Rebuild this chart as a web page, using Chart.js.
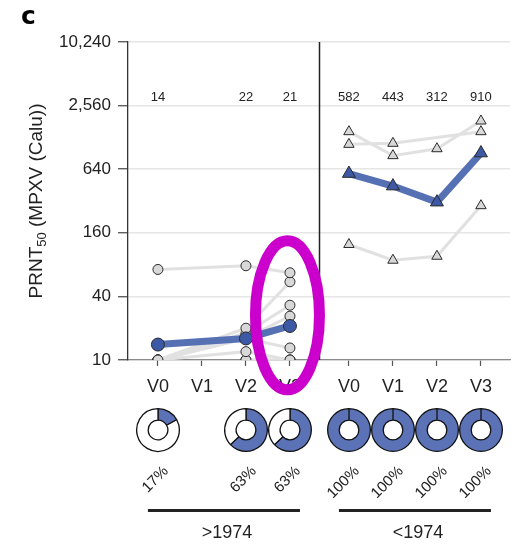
<!DOCTYPE html>
<html>
<head>
<meta charset="utf-8">
<script src="https://cdn.jsdelivr.net/npm/chart.js@4"></script>
<style>
  html, body { margin: 0; padding: 0; background: #fff; }
  #wrap { position: relative; width: 521px; height: 544px; }
  #main { position: absolute; left: 0; top: 0; }
  .donut { position: absolute; }
</style>
</head>
<body>
<div id="wrap"><canvas id="main" width="521" height="544"></canvas></div>
<script>
// ---------------- data ----------------
const visits = ['V0', 'V1', 'V2', 'V3'];
const groups = ['>1974', '<1974'];
const yTicks = [10, 40, 160, 640, 2560, 10240];

// individual PRNT50 titres, >1974 group (one array per subject, V0..V3)
const olderA = [72, null, 78, 67];
const olderB = [10, null, 20, 55];
const olderC = [10, null, 18, 33];
const olderD = [10, null, 16, 26];
const olderE = [10, null, 16, 13];
const olderF = [10, null, 12, 10];
const olderG = [null, null, 10, 10];
const olderH = [null, null, 10, 10];
const youngSubjects = [olderA, olderB, olderC, olderD, olderE, olderF, olderG, olderH];

// individual PRNT50 titres, <1974 group
const preP = [1450, 860, 1000, 1830];
const preQ = [1100, 1125, null, 1450];
const preR = [124, 88, 96, 289];
const oldSubjects = [preP, preQ, preR];

// geometric means (blue line)
const meanYoung = [14, null, 16, 21];
const meanOld = [582, 443, 312, 910];

// numbers printed above columns
const gmtYoung = ['14', '', '22', '21'];
const gmtOld = ['582', '443', '312', '910'];

// percentage positive (donuts)
const pctYoung = [17, null, 63, 63];
const pctOld = [100, 100, 100, 100];

// ---------------- layout helpers ----------------
const GROUP_SHIFT = 4.34;            // x-offset of second panel (in category units)
const X_MIN = -0.68, X_MAX = 8.0;
const posOf = (g, i) => i + g * GROUP_SHIFT;
const tickPositions = [];
const tickLabels = [];
groups.forEach((g, gi) => visits.forEach((v, i) => { tickPositions.push(posOf(gi, i)); tickLabels.push(v); }));

const FONT = '"Liberation Sans", Arial, sans-serif';
const GRAY_LINE = '#e1e1e1';
const GRAY_FILL = '#d8d8d8';
const EDGE = '#2a2a2a';
const BLUE_LINE = '#5670b4';
const BLUE_FILL = '#3d59a6';
const DONUT_BLUE = '#5b73b6';

function toPts(g, arr) {
  return arr.map((v, i) => ({ x: posOf(g, i), y: v })).filter(p => p.y !== null);
}

const datasets = [];
datasets.push({
  label: 'GMT >1974', data: toPts(0, meanYoung), order: 0,
  borderColor: BLUE_LINE, borderWidth: 7, pointStyle: 'circle', pointRadius: 6.5,
  pointBackgroundColor: BLUE_FILL, pointBorderColor: EDGE, pointBorderWidth: 1, spanGaps: true
});
datasets.push({
  label: 'GMT <1974', data: toPts(1, meanOld), order: 0,
  borderColor: BLUE_LINE, borderWidth: 7, pointStyle: 'triangle', pointRadius: 7.5,
  pointBackgroundColor: BLUE_FILL, pointBorderColor: EDGE, pointBorderWidth: 1, spanGaps: true
});
youngSubjects.forEach((s, k) => datasets.push({
  label: 'young ' + k, data: toPts(0, s), order: 1,
  borderColor: GRAY_LINE, borderWidth: 3, pointStyle: 'circle', pointRadius: 5,
  pointBackgroundColor: GRAY_FILL, pointBorderColor: EDGE, pointBorderWidth: 1, spanGaps: true
}));
oldSubjects.forEach((s, k) => datasets.push({
  label: 'old ' + k, data: toPts(1, s), order: 1,
  borderColor: GRAY_LINE, borderWidth: 3, pointStyle: 'triangle', pointRadius: 6,
  pointBackgroundColor: GRAY_FILL, pointBorderColor: EDGE, pointBorderWidth: 1, spanGaps: true
}));

// ---------------- decorations plugin ----------------
const deco = {
  id: 'deco',
  afterDatasetsDraw(chart) {
    const ctx = chart.ctx, xs = chart.scales.x, ys = chart.scales.y, ca = chart.chartArea;
    ctx.save();
    // separator between panels
    const sepX = Math.round(xs.getPixelForValue((posOf(0, 3) + posOf(1, 0)) / 2)) + 0.5;
    ctx.strokeStyle = '#222'; ctx.lineWidth = 1.5;
    ctx.beginPath(); ctx.moveTo(sepX, ca.top); ctx.lineTo(sepX, ca.bottom); ctx.stroke();
    // GMT numbers above columns
    ctx.fillStyle = '#222'; ctx.font = '13px ' + FONT; ctx.textAlign = 'center'; ctx.textBaseline = 'middle';
    [gmtYoung, gmtOld].forEach((arr, g) => arr.forEach((t, i) => {
      if (t) ctx.fillText(t, xs.getPixelForValue(posOf(g, i)), 97);
    }));
    ctx.restore();
  },
  afterDraw(chart) {
    const ctx = chart.ctx, xs = chart.scales.x, ys = chart.scales.y, ca = chart.chartArea;
    ctx.save();
    // panel letter
    ctx.fillStyle = '#000'; ctx.font = 'bold 25px "DejaVu Sans", sans-serif';
    ctx.textAlign = 'left'; ctx.textBaseline = 'alphabetic';
    ctx.fillText('c', 21, 24);
    // y title with subscript
    ctx.translate(41.5, (ca.top + ca.bottom) / 2);
    ctx.rotate(-Math.PI / 2);
    const f1 = '19px ' + FONT, f2 = '13px ' + FONT;
    ctx.font = f1; const w1 = ctx.measureText('PRNT').width; const w3 = ctx.measureText(' (MPXV (Calu))').width;
    ctx.font = f2; const w2 = ctx.measureText('50').width;
    let x0 = -(w1 + w2 + w3) / 2;
    ctx.fillStyle = '#222';
    ctx.font = f1; ctx.fillText('PRNT', x0, 0);
    ctx.font = f2; ctx.fillText('50', x0 + w1, 4);
    ctx.font = f1; ctx.fillText(' (MPXV (Calu))', x0 + w1 + w2, 0);
    ctx.restore();

    ctx.save();
    // percentages
    ctx.fillStyle = '#222'; ctx.font = '15px ' + FONT; ctx.textAlign = 'right'; ctx.textBaseline = 'middle';
    [pctYoung, pctOld].forEach((arr, g) => arr.forEach((p, i) => {
      if (p === null) return;
      const px = xs.getPixelForValue(posOf(g, i));
      ctx.save(); ctx.translate(px + 8, 469); ctx.rotate(-Math.PI / 4);
      ctx.fillText(p + '%', 0, 0); ctx.restore();
    }));
    // group brackets + labels
    ctx.strokeStyle = '#222'; ctx.lineWidth = 3;
    ctx.font = '18px ' + FONT; ctx.textAlign = 'center'; ctx.textBaseline = 'middle';
    groups.forEach((g, gi) => {
      const a = xs.getPixelForValue(posOf(gi, 0)) - 10, b = xs.getPixelForValue(posOf(gi, 3)) + 10;
      ctx.beginPath(); ctx.moveTo(a, 510.5); ctx.lineTo(b, 510.5); ctx.stroke();
      ctx.fillText(g, (a + b) / 2 + 3, 533);
    });
    // magenta highlight ellipse around >1974 V3
    const ex = xs.getPixelForValue(posOf(0, 3)) - 2.5;
    const ey = ys.getPixelForValue(26.5);
    ctx.strokeStyle = '#cc00cc'; ctx.lineWidth = 11;
    ctx.beginPath(); ctx.ellipse(ex, ey, 32, 74.5, 0, 0, Math.PI * 2); ctx.stroke();
    ctx.restore();
  }
};

const chart = new Chart(document.getElementById('main'), {
  type: 'line',
  data: { datasets },
  options: {
    responsive: false, animation: false, events: [],
    layout: { padding: { left: 0, right: 11, top: 42, bottom: 0 } },
    plugins: { legend: { display: false }, tooltip: { enabled: false } },
    scales: {
      x: {
        type: 'linear', min: X_MIN, max: X_MAX,
        afterBuildTicks: s => { s.ticks = tickPositions.map(v => ({ value: v })); },
        afterFit: s => { s.height = 184; },
        ticks: {
          autoSkip: false, maxRotation: 0, padding: 10, color: '#222', font: { family: FONT, size: 18 },
          callback: (v) => {
            let best = 0;
            tickPositions.forEach((p, i) => { if (Math.abs(p - v) < Math.abs(tickPositions[best] - v)) best = i; });
            return tickLabels[best];
          }
        },
        grid: { drawOnChartArea: false, tickLength: 6, tickColor: '#555', tickWidth: 1.2 },
        border: { color: '#8a8a8a', width: 1.2 }
      },
      y: {
        type: 'logarithmic', min: 10, max: 10240,
        afterBuildTicks: s => { s.ticks = yTicks.map(v => ({ value: v })); },
        afterFit: s => { s.width = 128; },
        ticks: {
          padding: 7, color: '#222', font: { family: FONT, size: 17 },
          callback: v => Number(v).toLocaleString('en-US')
        },
        grid: { color: '#e6e6e6', lineWidth: 1.5, tickLength: 10, tickColor: '#444', tickWidth: 1.2 },
        border: { color: '#333', width: 1.3 }
      }
    }
  },
  plugins: [deco]
});

// ---------------- donut charts for % positive ----------------
const wrap = document.getElementById('wrap');
[pctYoung, pctOld].forEach((arr, g) => arr.forEach((p, i) => {
  if (p === null) return;
  const px = chart.scales.x.getPixelForValue(posOf(g, i));
  const c = document.createElement('canvas');
  c.className = 'donut'; c.width = 46; c.height = 46;
  c.style.left = (px - 23) + 'px'; c.style.top = (430 - 23) + 'px';
  wrap.appendChild(c);
  new Chart(c, {
    type: 'doughnut',
    data: { labels: ['positive', 'negative'], datasets: [{
      data: [p, 100 - p], backgroundColor: [DONUT_BLUE, '#ffffff'],
      borderColor: '#111', borderWidth: 1.3
    }] },
    options: {
      responsive: false, animation: false, events: [], cutout: '46%',
      layout: { padding: 1 },
      plugins: { legend: { display: false }, tooltip: { enabled: false } }
    }
  });
}));
</script>
</body>
</html>
